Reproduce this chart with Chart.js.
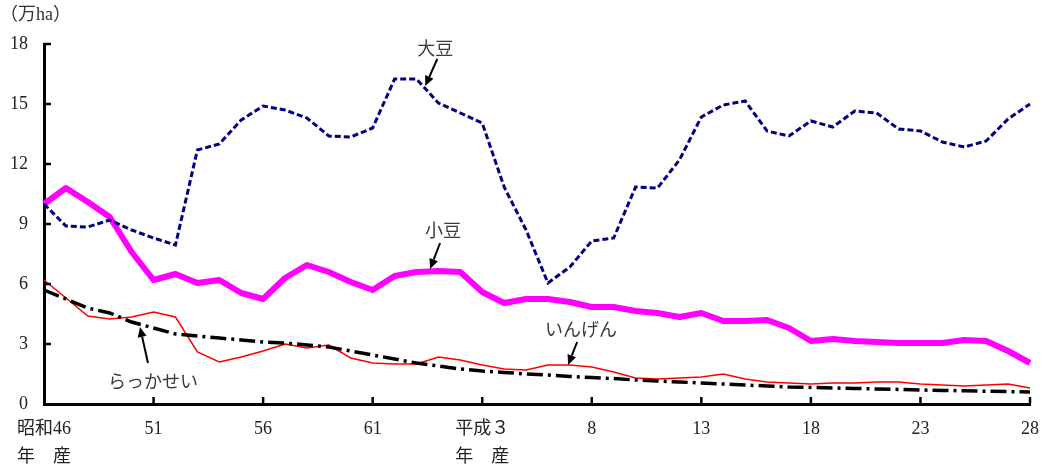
<!DOCTYPE html>
<html>
<head>
<meta charset="utf-8">
<script src="https://cdn.jsdelivr.net/npm/chart.js@4.4.1/dist/chart.umd.min.js"></script>
<style>
  html, body { margin: 0; padding: 0; background: #fff; }
  #wrap { width: 1046px; height: 470px; position: relative; }
</style>
</head>
<body>
<div id="wrap"><canvas id="c" width="1046" height="470"></canvas></div>
<script>
// ---- data (万ha) ----
const categories = ['1971','1972','1973','1974','1975','1976','1977','1978','1979','1980',
  '1981','1982','1983','1984','1985','1986','1987','1988','1989','1990',
  '1991','1992','1993','1994','1995','1996','1997','1998','1999','2000',
  '2001','2002','2003','2004','2005','2006','2007','2008','2009','2010',
  '2011','2012','2013','2014','2015','2016'];

const daizu = [10.0, 8.9, 8.85, 9.2, 8.7, 8.3, 7.95, 12.7, 13.0, 14.2,
  14.9, 14.7, 14.3, 13.4, 13.35, 13.8, 16.25, 16.25, 15.05, 14.55,
  14.05, 10.85, 8.7, 6.05, 6.85, 8.15, 8.3, 10.85, 10.8, 12.2,
  14.35, 14.95, 15.15, 13.65, 13.4, 14.15, 13.85, 14.65, 14.55, 13.75,
  13.65, 13.1, 12.85, 13.15, 14.25, 15.0];

const shozu = [10.0, 10.8, 10.1, 9.35, 7.6, 6.2, 6.5, 6.05, 6.2, 5.55,
  5.25, 6.3, 6.95, 6.6, 6.1, 5.7, 6.4, 6.6, 6.65, 6.6,
  5.6, 5.05, 5.25, 5.25, 5.1, 4.85, 4.85, 4.65, 4.55, 4.35,
  4.55, 4.15, 4.15, 4.2, 3.8, 3.15, 3.25, 3.15, 3.1, 3.05,
  3.05, 3.05, 3.2, 3.15, 2.65, 2.05];

const ingen = [6.2, 5.3, 4.4, 4.25, 4.35, 4.6, 4.35, 2.6, 2.1, 2.35,
  2.65, 3.0, 2.8, 2.95, 2.3, 2.05, 2.0, 2.0, 2.35, 2.2,
  1.95, 1.75, 1.7, 1.95, 1.95, 1.85, 1.6, 1.3, 1.25, 1.3,
  1.35, 1.5, 1.25, 1.1, 1.05, 1.0, 1.05, 1.05, 1.1, 1.1,
  1.0, 0.95, 0.9, 0.95, 1.0, 0.8];

const rakkasei = [5.7, 5.25, 4.8, 4.55, 4.1, 3.8, 3.5, 3.4, 3.3, 3.2,
  3.1, 3.05, 2.95, 2.85, 2.65, 2.45, 2.25, 2.05, 1.9, 1.75,
  1.65, 1.58, 1.5, 1.45, 1.38, 1.32, 1.27, 1.2, 1.15, 1.1,
  1.05, 1.0, 0.95, 0.9, 0.85, 0.83, 0.8, 0.78, 0.75, 0.73,
  0.7, 0.68, 0.66, 0.64, 0.62, 0.6];

const tickLabelYears = ['1971','1976','1981','1986','1991','1996','2001','2006','2011','2016'];
const tickLabelLines = [['昭和46','年　産'], ['51'], ['56'], ['61'], ['平成３','年　産'], ['8'], ['13'], ['18'], ['23'], ['28']];
const yTicks = [0, 3, 6, 9, 12, 15, 18];
const unitLabel = '（万ha）';

// label annotations: arrow tip anchored in data space (category index, value)
const annotationTexts = ['大豆', '小豆', 'いんげん', 'らっかせい'];
const annotationTipIndex = [17.4, 17.62, 23.92, 4.38];
const annotationTipValue = [15.9, 6.75, 1.95, 3.85];

// ---- presentation (pixel offsets relative to arrow tip) ----
const annoStyle = [
  { tail: [12, -27], text: [10, -38] },
  { tail: [10, -26], text: [13, -39] },
  { tail: [9, -23],  text: [13, -36] },
  { tail: [8, 36],   text: [13, 54] }
];

const serif = '"Liberation Serif", "Noto Sans CJK JP", serif';
const sans = '"Noto Sans CJK JP", sans-serif';

const decor = {
  id: 'decor',
  afterDatasetsDraw(chart) {
    const { ctx, scales: { x, y } } = chart;
    ctx.save();
    // inner tick marks
    ctx.strokeStyle = '#000';
    ctx.lineWidth = 2.5;
    yTicks.forEach(v => {
      const py = y.getPixelForValue(v);
      if (v === 0) return;
      ctx.beginPath(); ctx.moveTo(x.left, py); ctx.lineTo(x.left + 7, py); ctx.stroke();
    });
    categories.forEach((c, i) => {
      if (tickLabelYears.indexOf(c) < 0 || i === 0) return;
      const px = x.getPixelForValue(i);
      ctx.beginPath(); ctx.moveTo(px, y.bottom); ctx.lineTo(px, y.bottom - 7); ctx.stroke();
    });
    // unit label
    ctx.fillStyle = '#333';
    ctx.font = '18px ' + serif;
    ctx.textAlign = 'left';
    ctx.textBaseline = 'middle';
    ctx.fillText(unitLabel, 0, 15);
    // annotations
    annotationTexts.forEach((t, k) => {
      const tx = x.getPixelForValue(annotationTipIndex[k]);
      const ty = y.getPixelForValue(annotationTipValue[k]);
      const st = annoStyle[k];
      const sx = tx + st.tail[0], sy = ty + st.tail[1];
      const ang = Math.atan2(ty - sy, tx - sx);
      const headLen = 10, headW = 4.5;
      const bx = tx - headLen * Math.cos(ang), by = ty - headLen * Math.sin(ang);
      ctx.strokeStyle = '#000';
      ctx.lineWidth = 2;
      ctx.beginPath(); ctx.moveTo(sx, sy); ctx.lineTo(bx, by); ctx.stroke();
      ctx.fillStyle = '#000';
      ctx.beginPath();
      ctx.moveTo(tx, ty);
      ctx.lineTo(bx + headW * Math.sin(ang), by - headW * Math.cos(ang));
      ctx.lineTo(bx - headW * Math.sin(ang), by + headW * Math.cos(ang));
      ctx.closePath(); ctx.fill();
      ctx.fillStyle = '#3a3a3a';
      ctx.font = '18px ' + sans;
      ctx.textAlign = 'center';
      ctx.textBaseline = 'middle';
      ctx.fillText(t, tx + st.text[0], ty + st.text[1]);
    });
    ctx.restore();
  }
};

new Chart(document.getElementById('c'), {
  type: 'line',
  data: {
    labels: categories,
    datasets: [
      { label: '大豆', data: daizu, borderColor: '#000080', borderWidth: 3, borderDash: [6, 3], pointRadius: 0, tension: 0, fill: false },
      { label: 'らっかせい', data: rakkasei, borderColor: '#000', borderWidth: 3.5, borderDash: [16, 5, 3, 5], pointRadius: 0, tension: 0, fill: false },
      { label: '小豆', data: shozu, borderColor: '#ff00ff', borderWidth: 6, pointRadius: 0, tension: 0, fill: false, borderJoinStyle: 'round' },
      { label: 'いんげん', data: ingen, borderColor: '#ff0000', borderWidth: 1.5, pointRadius: 0, tension: 0, fill: false }
    ]
  },
  options: {
    responsive: false,
    animation: false,
    events: [],
    layout: { padding: { top: 44, right: 16, bottom: 0, left: 0 } },
    plugins: { legend: { display: false }, tooltip: { enabled: false }, title: { display: false } },
    scales: {
      x: {
        type: 'category',
        offset: false,
        grid: { display: false, drawTicks: false },
        border: { display: true, color: '#000', width: 3 },
        afterFit(s) { s.height = 66; s.paddingLeft = 0; s.paddingRight = 0; },
        ticks: {
          autoSkip: false, maxRotation: 0, minRotation: 0, padding: 11,
          color: '#222',
          font: { family: serif, size: 18, lineHeight: 1.55 },
          callback(val, idx) {
            const k = tickLabelYears.indexOf(categories[idx]);
            return k >= 0 ? tickLabelLines[k] : '';
          }
        }
      },
      y: {
        min: 0, max: 18,
        grid: { display: false, drawTicks: false },
        border: { display: true, color: '#000', width: 3 },
        afterFit(s) { s.width = 44; s.paddingTop = 0; s.paddingBottom = 0; },
        afterBuildTicks(s) { s.ticks = yTicks.map(v => ({ value: v })); },
        ticks: {
          padding: 16,
          color: '#222',
          font: { family: serif, size: 18 }
        }
      }
    }
  },
  plugins: [decor]
});
</script>
</body>
</html>
